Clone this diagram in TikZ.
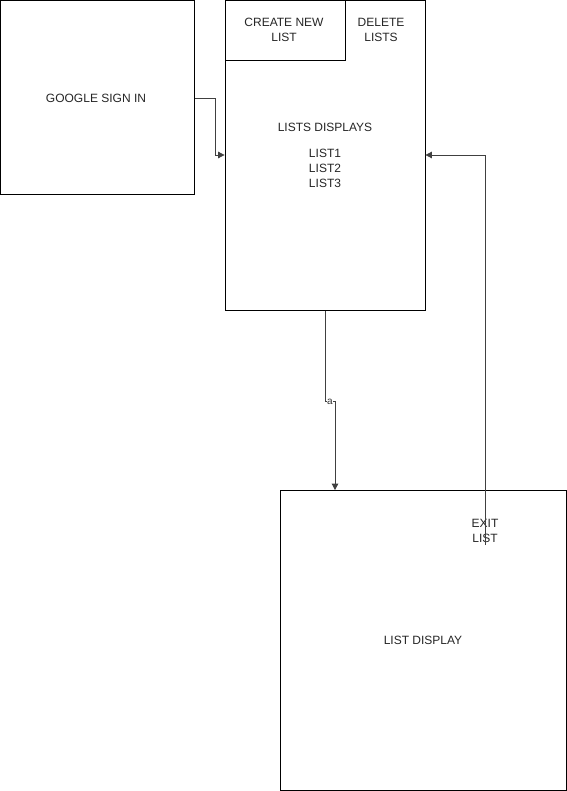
\documentclass[tikz,border=0pt]{standalone}
\usepackage{fontspec}
\setmainfont{Liberation Sans}
\usetikzlibrary{arrows.meta}
\begin{document}
\begin{tikzpicture}[x=1pt,y=-1pt,
  box/.style={draw=black,line width=0.8pt,inner sep=0pt,fill=none},
  lbl/.style={font=\fontsize{12}{15}\selectfont,text=black!85,align=center,inner sep=0pt},
  conn/.style={draw=black!75,line width=0.8pt,-{Triangle[width=6.5pt,length=6.5pt]}}]
\useasboundingbox[fill=white] (0,0) rectangle (566,791);
% boxes
\node[box,minimum width=194pt,minimum height=194pt] (google) at (97.5,97.5) {};
\node[lbl] (googletxt) at (96,98) {GOOGLE SIGN IN};
\node[box,minimum width=200pt,minimum height=310pt] (main) at (325,155.5) {};
\node[box,minimum width=120pt,minimum height=60pt] (create) at (285,30.5) {};
\node[lbl] at (284,30) {CREATE NEW\\LIST};
\node[lbl] (delete) at (381,30) {DELETE\\LISTS};
\node[lbl] (lists) at (325,155) {LISTS DISPLAYS\\[11pt]LIST1\\LIST2\\LIST3};
\node[box,minimum width=286pt,minimum height=300pt] (listdisp) at (423,640.5) {};
\node[lbl] at (423,640) {LIST DISPLAY};
\node[lbl] (exit) at (485,531) {EXIT\\LIST};
% connectors
\coordinate (g1) at (215,98);
\coordinate (g2) at (215,155);
\draw[conn] (google.east |- g1) -- (g1) -- (g2) -- (main.west |- g2);
\coordinate (m1) at (325,401);
\coordinate (m2) at (335,401);
\draw[conn] (main.south) -- (m1) -- (m2) -- (listdisp.north -| m2);
\node[font=\fontsize{10}{12}\selectfont,fill=white,inner sep=0.5pt,text=black!80] at (330,402) {a};
\coordinate (e0) at (485,545);
\coordinate (e1) at (485,155);
\draw[conn] (e0) -- (e1) -- (main.east |- e1);
\end{tikzpicture}
\end{document}
